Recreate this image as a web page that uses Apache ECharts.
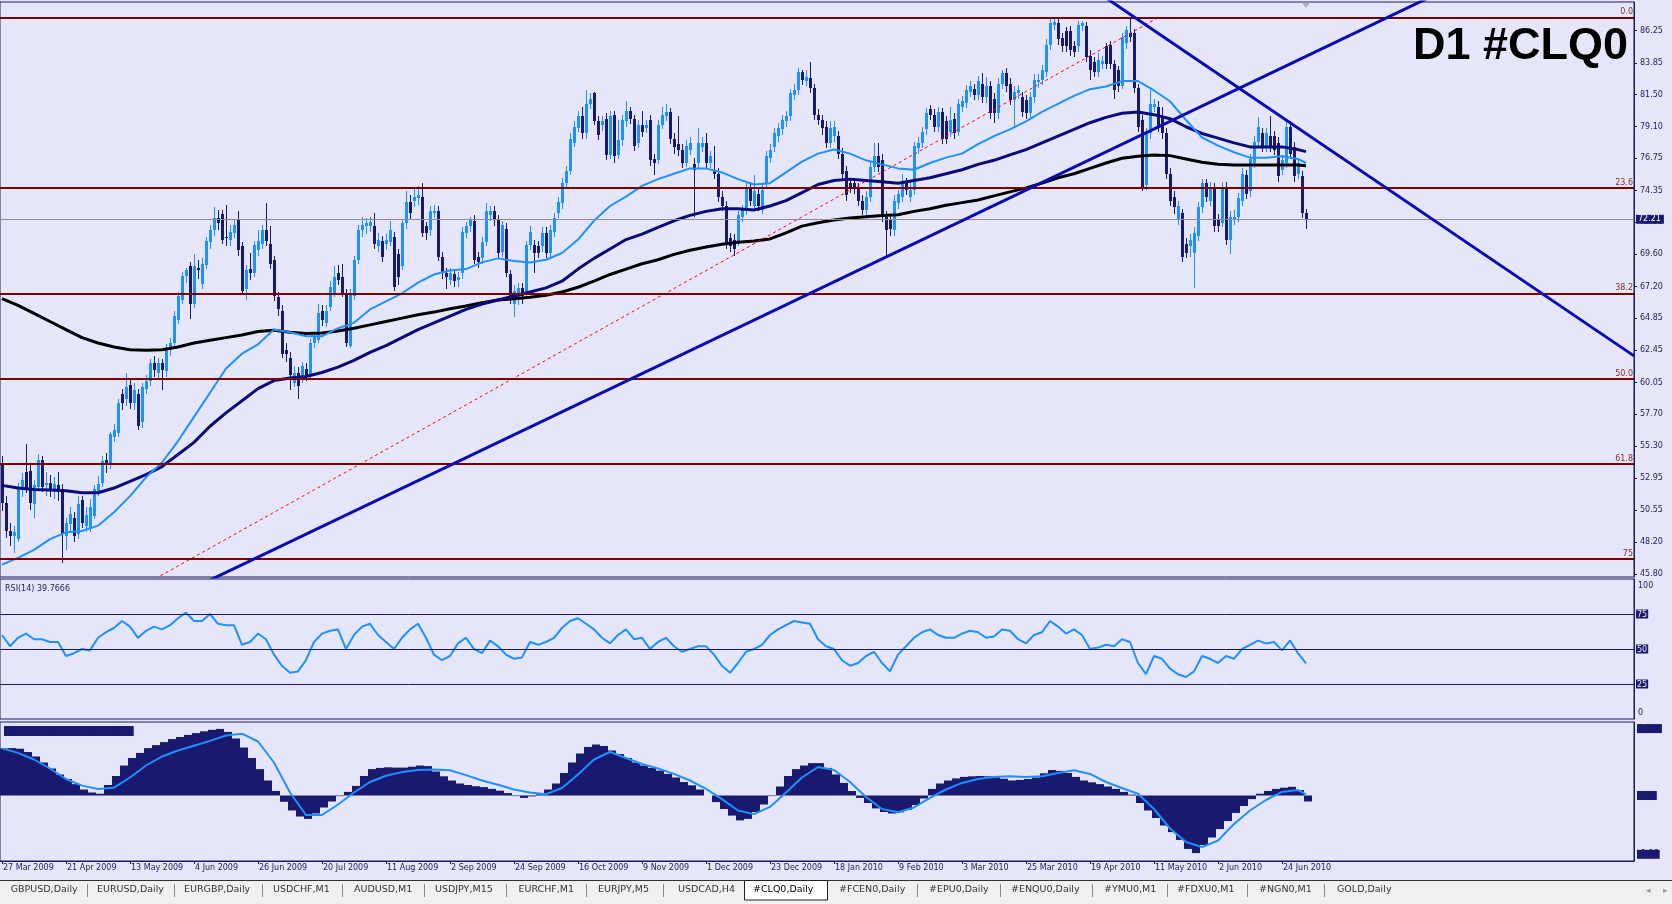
<!DOCTYPE html>
<html><head><meta charset="utf-8">
<script src="https://cdn.jsdelivr.net/npm/echarts@6/dist/echarts.min.js"></script>
<style>html,body{margin:0;padding:0;background:#E6E6FA;}#c{width:1672px;height:904px;}</style>
</head><body><div id="c"></div>
<script>
// ---------------- DATA ----------------
const dateLabels = ['27 Mar 2009','21 Apr 2009','13 May 2009','4 Jun 2009','26 Jun 2009','20 Jul 2009','11 Aug 2009','2 Sep 2009','24 Sep 2009','16 Oct 2009','9 Nov 2009','1 Dec 2009','23 Dec 2009','18 Jan 2010','9 Feb 2010','3 Mar 2010','25 Mar 2010','19 Apr 2010','11 May 2010','2 Jun 2010','24 Jun 2010'];
const priceTicks = [45.80,48.20,50.55,52.95,55.30,57.70,60.05,62.45,64.85,67.20,69.60,72.00,74.35,76.75,79.10,81.50,83.85,86.25];
// daily candles: [open, close, low, high]
const candles = [
[54.0,51.1,50.5,54.6],[51.1,49.0,48.5,51.6],[49.0,48.6,47.9,49.6],[48.6,48.9,47.4,49.4],[48.4,52.3,48.2,52.6],
[52.1,52.8,51.5,53.3],[53.4,52.1,51.8,55.5],[53.5,51.1,50.6,53.9],[51.0,52.4,50.0,52.8],[52.3,54.3,52.0,54.7],
[54.3,52.3,51.9,54.6],[52.4,52.6,51.6,53.4],[52.6,52.1,51.5,53.2],[52.1,52.5,51.4,53.0],[52.4,51.9,51.2,53.4],
[52.1,48.8,46.6,52.5],[48.6,49.6,47.6,50.0],[49.5,50.3,48.9,50.8],[50.0,48.6,48.2,50.4],[48.8,51.0,48.4,51.6],
[51.3,49.6,49.2,51.6],[49.4,50.2,48.9,50.8],[49.2,50.8,48.9,51.4],[50.1,52.1,49.9,52.4],[52.0,52.5,51.6,53.1],
[52.6,54.2,52.3,54.6],[54.3,53.9,53.3,54.8],[53.9,56.2,53.6,56.4],[56.0,56.5,55.6,57.0],[56.3,58.5,56.0,58.8],
[59.2,58.5,58.0,59.6],[58.8,59.7,58.3,60.8],[59.9,58.5,58.1,60.3],[58.5,59.5,58.0,60.0],[59.2,56.8,56.5,59.6],
[57.1,59.7,56.7,60.0],[59.6,60.2,59.2,60.6],[60.2,61.5,59.8,61.8],[61.5,61.0,60.5,62.0],[60.8,61.5,60.4,61.9],
[61.5,61.0,59.5,61.8],[60.9,62.5,60.5,62.9],[62.5,63.0,62.0,63.4],[63.0,65.0,62.8,65.4],[64.7,66.5,64.4,66.8],
[66.2,68.0,65.9,68.3],[68.0,68.4,67.5,68.6],[68.7,65.9,64.8,69.0],[65.9,68.7,65.6,69.6],[68.6,68.4,67.8,69.2],
[67.4,68.9,67.0,69.3],[68.8,70.6,68.5,70.9],[70.5,71.4,70.0,71.8],[71.4,72.3,71.0,73.1],[72.3,71.9,71.4,72.9],
[72.6,70.7,70.4,72.9],[70.9,70.8,70.2,73.3],[70.7,71.3,70.2,71.8],[71.2,71.8,70.8,72.2],[72.2,69.9,69.5,72.8],
[70.2,66.9,66.6,70.5],[67.0,68.4,66.2,68.8],[68.5,68.2,67.7,69.7],[68.2,70.3,67.9,70.6],[69.9,70.6,69.5,71.4],
[70.4,71.4,70.0,71.8],[71.4,70.6,70.2,73.4],[70.4,68.9,68.5,71.7],[69.2,66.5,66.1,69.5],[66.4,65.5,65.0,66.8],
[65.4,62.2,61.9,65.8],[62.5,62.2,61.6,63.0],[61.9,60.6,59.5,62.3],[60.0,60.8,59.7,61.3],[60.8,59.8,58.8,61.2],
[60.5,61.3,60.0,61.6],[61.1,60.6,60.2,61.5],[60.6,63.0,60.3,63.3],[63.0,63.5,62.6,63.8],[63.2,65.2,63.0,65.9],
[65.4,64.7,64.3,65.8],[64.5,65.4,64.2,65.8],[65.7,67.2,65.4,67.6],[66.7,67.9,66.4,68.7],[68.2,67.7,67.3,68.8],
[67.9,66.7,66.4,68.9],[66.7,63.0,62.7,67.0],[62.8,66.7,62.6,67.0],[66.5,69.2,66.2,69.5],[69.2,71.4,68.9,71.8],
[71.4,71.8,70.9,72.4],[71.7,71.9,71.1,72.3],[71.7,72.0,71.3,72.4],[71.7,70.4,70.0,72.7],[70.2,70.7,69.8,71.2],
[70.6,69.4,69.0,71.0],[70.4,70.7,69.9,71.1],[70.5,71.4,70.2,72.1],[70.9,67.2,66.9,71.3],[69.6,67.9,67.3,70.0],
[68.7,71.9,68.4,72.2],[71.9,73.5,71.5,74.3],[73.5,72.7,72.2,74.0],[73.6,73.9,73.1,74.6],[73.8,74.0,73.3,74.7],
[73.9,71.2,70.9,74.9],[71.7,71.2,70.7,72.0],[71.4,72.8,71.0,73.2],[72.7,72.8,72.3,73.3],[72.8,69.4,69.1,73.2],
[69.4,68.2,67.8,69.8],[68.2,67.9,67.0,68.6],[67.7,68.2,67.3,68.6],[68.1,67.6,67.2,68.5],[67.7,67.9,67.2,68.3],
[68.2,71.3,67.8,71.6],[71.2,71.7,70.8,72.0],[71.7,72.2,71.3,72.4],[72.1,69.2,68.9,72.5],[69.4,69.0,68.6,69.8],
[69.3,70.5,68.9,70.9],[70.5,72.8,70.2,73.4],[72.5,72.8,72.1,73.2],[72.8,72.2,71.7,73.2],[72.2,69.7,69.3,72.5],
[69.8,71.8,69.4,72.1],[71.5,68.2,67.9,71.9],[68.1,66.2,65.9,68.4],[65.9,66.9,64.9,67.3],[66.2,67.1,65.8,67.5],
[67.1,66.5,65.9,67.5],[66.6,70.3,66.3,70.6],[70.3,71.3,69.9,71.7],[70.3,69.7,68.2,70.7],[70.2,69.7,69.3,70.6],
[70.2,71.2,69.8,71.6],[71.2,69.7,69.3,71.6],[69.7,71.4,69.3,71.8],[71.3,72.3,70.9,72.7],[72.7,73.5,72.3,73.9],
[73.4,74.9,73.0,75.3],[74.9,75.8,74.5,76.2],[75.8,78.2,75.5,78.6],[77.9,79.1,77.6,79.5],[79.0,79.9,78.7,80.3],
[79.9,78.6,78.2,80.6],[78.6,80.8,78.2,81.8],[80.8,81.2,80.4,81.6],[81.6,79.5,79.2,81.7],[79.5,78.5,78.1,79.9],
[79.2,79.5,78.8,79.9],[79.7,77.0,76.6,80.1],[77.0,79.9,76.7,80.3],[80.0,76.9,76.4,80.3],[77.0,78.1,76.7,79.6],
[78.1,79.6,77.7,80.0],[79.5,80.3,79.1,81.0],[80.3,79.7,79.3,80.6],[79.7,77.7,77.3,80.0],[77.9,79.2,77.5,79.6],
[79.2,78.7,78.3,80.3],[79.0,79.2,78.6,79.6],[79.6,76.6,76.2,80.0],[76.7,76.4,75.5,77.1],[76.6,79.2,76.3,79.6],
[79.2,80.0,78.9,80.6],[79.9,80.2,79.5,80.8],[80.2,78.2,77.8,80.5],[78.2,77.6,77.1,78.6],[77.8,77.4,76.9,79.9],
[77.4,76.4,76.0,77.8],[76.4,77.7,76.1,78.1],[77.4,77.9,77.0,78.3],[76.3,75.9,72.4,76.8],[76.4,77.9,76.0,79.0],
[77.6,77.9,77.2,78.3],[77.9,76.4,76.0,78.6],[76.4,76.9,76.0,77.3],[75.9,75.6,75.2,77.7],[75.6,73.9,73.5,76.0],
[73.9,73.2,72.8,74.3],[73.2,70.4,70.0,73.6],[70.8,70.2,69.8,71.2],[70.7,70.0,69.5,71.1],[70.4,72.5,70.2,72.8],
[72.4,72.9,72.0,73.3],[72.9,74.6,72.5,75.0],[74.6,73.6,73.2,75.0],[73.2,74.3,72.9,75.5],[74.1,73.2,72.8,74.5],
[72.9,74.4,72.6,74.8],[74.9,76.9,74.5,77.3],[76.8,77.4,76.4,77.8],[77.6,78.6,77.2,79.0],[78.4,79.0,78.0,79.4],
[78.9,79.6,78.5,80.0],[79.5,79.9,79.1,80.3],[79.9,81.6,79.5,81.9],[81.5,81.8,81.1,82.3],[81.8,83.2,81.5,83.5],
[83.2,82.6,82.2,83.3],[82.5,82.8,82.1,83.3],[82.7,82.0,81.6,83.9],[82.0,80.0,79.6,82.3],[80.0,79.6,79.2,80.4],
[79.6,79.0,78.5,80.0],[79.1,77.9,77.5,79.5],[77.9,79.0,77.5,79.5],[78.4,79.1,78.0,79.5],[78.4,77.1,76.7,78.8],
[77.1,75.6,75.2,77.5],[75.8,74.0,73.6,76.2],[74.9,74.6,74.2,75.3],[74.9,74.5,74.1,75.3],[74.5,73.6,73.2,74.9],
[73.6,72.9,72.5,74.0],[72.9,73.9,72.5,74.3],[73.9,76.1,73.5,76.5],[76.1,76.9,75.7,77.9],[76.9,76.1,75.7,77.9],
[76.6,72.4,72.0,77.1],[72.4,71.4,69.5,72.8],[72.2,71.5,71.0,72.6],[71.4,73.6,71.0,74.0],[73.4,74.1,73.0,74.4],
[73.9,74.9,73.5,75.6],[74.9,74.4,74.0,75.3],[73.9,74.4,73.5,75.0],[74.4,77.7,74.0,78.0],[77.5,77.9,77.1,78.3],
[77.9,78.7,77.5,79.1],[78.9,80.1,78.5,80.5],[80.4,80.0,79.6,80.7],[80.0,79.1,78.7,80.4],[79.1,80.2,78.7,80.6],
[80.2,78.2,77.8,80.5],[79.5,78.2,77.8,79.9],[78.7,79.6,78.3,80.6],[79.7,78.6,78.2,80.1],[78.7,80.8,78.4,81.2],
[80.6,81.0,80.2,81.4],[80.9,81.8,80.5,82.2],[81.7,82.1,81.3,82.5],[81.9,81.5,81.1,82.3],[81.5,82.5,81.1,82.9],
[82.3,81.3,80.9,83.1],[81.3,82.1,80.9,82.8],[82.1,80.1,79.7,82.5],[81.2,80.1,79.4,81.6],[80.1,82.3,79.7,82.7],
[82.3,83.1,81.9,83.3],[83.1,82.1,81.7,83.5],[82.3,81.1,80.7,82.7],[81.1,81.7,79.1,82.1],[81.6,81.8,81.2,82.2],
[81.3,80.2,79.8,81.7],[81.1,80.1,79.7,81.5],[80.1,81.3,79.7,81.7],[81.3,82.6,80.9,83.0],[82.4,82.6,82.0,83.0],
[82.6,83.3,82.2,83.7],[83.2,85.2,82.8,85.6],[85.2,86.8,84.8,87.1],[86.7,86.9,86.3,87.2],[86.8,85.6,85.2,87.1],
[85.7,85.1,84.7,86.1],[86.2,85.1,84.7,86.5],[86.2,84.8,84.4,86.6],[85.1,84.7,84.3,85.5],[85.1,86.7,84.7,87.0],
[86.6,86.8,86.2,87.0],[86.6,84.3,83.9,86.9],[84.4,83.3,82.6,84.8],[83.9,83.2,82.8,84.3],[83.2,84.1,82.8,84.6],
[83.8,84.0,83.4,84.4],[85.1,83.8,83.4,85.3],[85.2,83.8,83.4,85.5],[83.8,81.8,81.2,84.1],[83.3,82.1,81.7,83.6],
[82.1,85.8,81.9,86.1],[85.3,86.3,84.9,86.6],[86.1,85.8,85.4,87.2],[86.1,82.0,81.6,86.4],[82.0,79.1,78.7,82.3],
[79.6,74.6,74.3,80.0],[74.8,78.6,74.4,79.0],[78.6,80.8,78.2,81.8],[80.6,80.8,80.2,81.2],[80.6,79.1,78.7,81.0],
[79.8,78.6,78.2,80.6],[78.6,75.6,75.2,79.0],[75.6,73.6,73.2,76.0],[73.9,73.1,72.6,74.3],[72.2,73.2,71.8,73.6],
[72.7,69.4,69.0,73.0],[70.4,69.7,69.3,70.8],[70.2,70.7,69.4,71.1],[69.7,71.2,67.1,71.6],[71.0,73.1,70.6,73.5],
[73.1,74.9,72.7,75.2],[74.9,73.9,73.5,75.2],[73.6,74.6,73.2,75.0],[74.5,71.7,71.3,74.9],[72.2,71.7,71.3,72.6],
[71.9,74.6,71.6,75.0],[74.6,70.7,70.3,75.0],[70.7,72.4,69.6,72.8],[72.2,72.4,71.8,72.9],[72.4,73.8,72.0,74.2],
[73.6,75.6,73.2,76.0],[75.5,74.1,73.7,75.9],[74.3,76.7,73.9,77.1],[76.4,78.0,76.0,78.4],[78.0,79.1,77.6,79.8],
[78.6,77.6,77.2,79.0],[77.6,78.6,77.2,79.0],[78.4,77.6,77.2,79.9],[78.4,77.4,77.0,78.8],[77.9,75.4,75.0,78.3],
[75.9,76.6,75.5,77.0],[76.4,79.1,76.0,79.5],[79.1,77.1,76.7,79.5],[77.6,75.4,75.0,78.0],[75.6,76.4,75.2,76.8],
[75.4,72.7,72.3,75.8],[72.7,72.21,71.5,73.0]
];
// moving averages, one value every 4 bars (last value = last bar)
const maFast = [46.5,47.0,47.6,48.4,48.9,49.0,49.4,50.4,51.6,53.0,54.1,55.7,57.5,59.3,61.1,62.2,62.9,64.0,63.8,63.5,63.5,64.1,64.5,65.5,66.1,66.7,67.5,68.1,68.4,68.5,69.0,69.3,69.1,69.0,69.2,69.7,70.7,72.1,73.2,73.9,74.7,75.2,75.6,76.0,76.0,75.7,75.2,74.8,74.9,75.7,76.5,77.1,77.4,77.1,76.6,76.3,76.0,75.9,76.4,76.8,77.1,77.8,78.4,78.9,79.5,80.2,80.8,81.4,81.9,82.1,82.5,82.5,81.8,81.0,79.6,78.3,77.7,77.2,76.8,76.8,76.9,76.7,76.4];
const maMid = [52.4,52.2,52.1,52.05,52.0,51.85,51.85,52.2,52.7,53.2,53.8,54.7,55.6,56.8,57.8,58.7,59.6,60.2,60.4,60.5,60.8,61.2,61.7,62.3,62.8,63.4,64.0,64.5,65.0,65.5,65.9,66.2,66.5,66.8,67.1,67.6,68.5,69.3,70.0,70.7,71.1,71.6,72.1,72.5,72.8,73.0,73.0,72.9,73.2,73.6,74.2,74.8,75.1,75.2,75.1,75.0,74.9,75.1,75.3,75.6,75.9,76.3,76.6,77.0,77.4,77.9,78.4,78.9,79.4,79.8,80.1,80.2,80.0,79.7,79.1,78.6,78.25,77.9,77.6,77.6,77.6,77.4,77.25];
const maSlow = [66.3,65.8,65.2,64.6,64.0,63.4,63.0,62.7,62.5,62.45,62.5,62.7,63.0,63.2,63.4,63.6,63.85,63.95,63.8,63.7,63.75,63.9,64.1,64.35,64.6,64.85,65.1,65.3,65.55,65.75,66.0,66.2,66.3,66.4,66.55,66.8,67.15,67.6,68.1,68.5,68.9,69.2,69.6,69.9,70.15,70.35,70.5,70.6,70.75,71.2,71.7,71.95,72.15,72.3,72.4,72.5,72.55,72.8,73.0,73.25,73.45,73.65,73.95,74.25,74.55,74.9,75.3,75.6,76.0,76.4,76.75,76.9,77.0,76.95,76.7,76.45,76.3,76.25,76.25,76.25,76.25,76.25,76.2];
// RSI(14), one value every 2 bars
const rsi = [60,52,58,61,57,57,55,55,45,47, 50,49,58,62,65,70,66,58,63,66, 64,67,72,76,70,70,75,68,67,67,
 53,55,61,57,46,38,33,34,42,55, 61,63,64,50,60,66,68,60,55,50, 58,64,68,58,46,42,45,54,58,50,
 47,56,52,46,43,44,55,53,55,58, 65,70,72,68,64,58,54,60,64,57, 58,50,55,58,52,48,50,52,52,46,
 38,33,40,48,50,53,60,64,67,70, 69,68,57,52,50,42,38,40,45,48, 40,34,46,52,58,62,64,60,58,58,
 61,63,62,58,59,64,63,57,54,60, 62,70,66,61,64,60,50,51,53,52, 57,55,40,32,45,43,36,32,30,34,
 45,43,40,45,43,50,53,56,54,55, 49,56,47,39.77];
const rsiText = 'RSI(14) 39.7666';
// MACD histogram, one value every 2 bars
const macdHist = [1.57,1.58,1.56,1.45,1.30,1.10,0.90,0.70,0.55,0.38, 0.20,0.10,0.06,0.35,0.65,1.00,1.25,1.42,1.58,1.68,
 1.78,1.88,1.95,2.02,2.08,2.14,2.19,2.22,2.12,1.90, 1.60,1.25,0.88,0.50,0.15,-0.21,-0.50,-0.70,-0.78,-0.60,
 -0.40,-0.20,-0.02,0.12,0.32,0.65,0.88,0.92,0.94,0.93, 0.93,0.96,1.00,0.98,0.80,0.64,0.50,0.40,0.35,0.31,
 0.28,0.22,0.16,0.08,-0.02,-0.08,-0.03,0.04,0.20,0.40, 0.75,1.10,1.40,1.62,1.70,1.65,1.50,1.38,1.25,1.10,
 1.00,0.92,0.83,0.72,0.60,0.45,0.34,0.20,0.00,-0.22, -0.45,-0.67,-0.83,-0.78,-0.55,-0.30,-0.02,0.30,0.65,0.88,
 1.00,1.08,1.08,0.92,0.70,0.42,0.15,-0.08,-0.25,-0.43, -0.55,-0.60,-0.56,-0.48,-0.32,-0.10,0.22,0.40,0.50,0.57,
 0.62,0.64,0.65,0.64,0.62,0.56,0.50,0.52,0.55,0.60, 0.74,0.85,0.82,0.75,0.62,0.50,0.44,0.38,0.30,0.22,
 0.12,0.03,-0.25,-0.50,-0.75,-1.00,-1.22,-1.48,-1.78,-1.92, -1.65,-1.40,-1.12,-0.85,-0.58,-0.35,-0.12,0.06,0.15,0.22,
 0.26,0.29,0.18,-0.20];
// MACD signal, one value every 4 bars (last value = last bar)
const macdSignal = [1.57,1.42,1.2,0.9,0.55,0.33,0.22,0.26,0.6,1.0, 1.3,1.5,1.66,1.82,2.0,2.06,1.8,1.1,0.1,-0.65,
 -0.65,-0.3,0.1,0.45,0.66,0.78,0.85,0.87,0.84,0.68, 0.5,0.36,0.2,0.1,0.04,0.25,0.7,1.2,1.45,1.25,
 1.05,0.9,0.72,0.5,0.22,-0.12,-0.5,-0.62,-0.38,0.1, 0.6,0.95,0.85,0.45,-0.05,-0.45,-0.56,-0.4,-0.08,0.2,
 0.42,0.55,0.62,0.64,0.62,0.64,0.75,0.84,0.72,0.45, 0.25,0.06,-0.45,-1.1,-1.55,-1.72,-1.5,-0.95,-0.5,-0.15,
 0.12,0.18,0.04];
const macdScaleLabels = [2.23, 0, -1.96];
// Fibonacci retracement and drawn trend lines (bar index, price)
const fibHigh = 87.25, fibLow = 33.45;
const fibRatios = [0, 23.6, 38.2, 50.0, 61.8, 75];
const fibNames = ['0.0','23.6','38.2','50.0','61.8','75'];
const fibBase = [[-33.7, fibLow],[289.2, fibHigh]];
const trendUp = [[0, 37.95],[408, 96.01]];
const trendDown = [[260, 91.92],[408, 62.04]];
const lastPrice = 72.21;
const tabNames = ['GBPUSD,Daily','EURUSD,Daily','EURGBP,Daily','USDCHF,M1','AUDUSD,M1','USDJPY,M15','EURCHF,M1','EURJPY,M5','USDCAD,H4','#CLQ0,Daily','#FCEN0,Daily','#EPU0,Daily','#ENQU0,Daily','#YMU0,M1','#FDXU0,M1','#NGN0,M1','GOLD,Daily'];
const activeTab = 9;

// ---------------- LAYOUT / STYLE ----------------
const tabX = [10.7,97,184,273,354,435,518.5,598,678,753,839,929,1011,1104,1177,1259,1337];
const BG = '#E6E6FA', BORDER = '#1A1A5E', TXT = '#1C1C5C';
const UP = '#1E90FF', DOWN = '#191970';
const lastBar = candles.length - 1;
const X_MIN = -0.5, X_MAX = 408;
const Y_MIN = 45.5766, Y_MAX = 88.388;
const FONT = 'DejaVu Sans';
const TAB_FONT = '9.5px "' + FONT + '"';

const chart = echarts.init(document.getElementById('c'), null, {renderer: 'canvas'});

function step4(arr){ return arr.map((v,k)=>[Math.min(k*4, lastBar), v]); }
function step2(arr){ return arr.map((v,k)=>[k*2, v]); }

function renderCandle(params, api){
  const i = api.value(0), o = api.value(1), c = api.value(2), l = api.value(3), h = api.value(4);
  const pO = api.coord([i,o]), pC = api.coord([i,c]);
  const pL = api.coord([i,Math.min(l,o,c)]), pH = api.coord([i,Math.max(h,o,c)]);
  const x = Math.round(pO[0]);
  const col = c >= o ? UP : DOWN;
  const yT = Math.round(Math.min(pO[1],pC[1])), yB = Math.round(Math.max(pO[1],pC[1]));
  return {type:'group', children:[
    {type:'rect', shape:{x:x, y:Math.round(pH[1]), width:1, height:Math.max(1,Math.round(pL[1])-Math.round(pH[1]))}, style:{fill:col}},
    {type:'rect', shape:{x:x-1, y:yT, width:3, height:Math.max(1,yB-yT)}, style:{fill:col}}
  ]};
}
function renderHist(params, api){
  const b = api.value(0), v = api.value(1);
  const a = api.coord([b-0.5, 0]), e = api.coord([b+1.5, v]);
  return {type:'rect', shape:{x:Math.round(a[0]), y:Math.min(a[1],e[1]), width:Math.round(e[0])-Math.round(a[0]), height:Math.abs(e[1]-a[1])}, style:{fill:DOWN}};
}

// text measuring for tab separators
const mctx = document.createElement('canvas').getContext('2d');
mctx.font = TAB_FONT;

const xCommon = {type:'value', min:X_MIN, max:X_MAX, splitLine:{show:false}};
const graphics = [];
// tab bar
graphics.push({type:'rect', shape:{x:0,y:881,width:1672,height:23}, style:{fill:'#F0F0F0'}, z:10});
graphics.push({type:'rect', shape:{x:0,y:880,width:1672,height:1}, style:{fill:'#303030'}, z:11});
graphics.push({type:'rect', shape:{x:tabX[activeTab]-8.5,y:880.5,width:83,height:19.5}, style:{fill:'#FFFFFF', stroke:'#202020', lineWidth:1}, z:11});
tabNames.forEach((t,i)=>{
  graphics.push({type:'text', x:tabX[i], y:890, style:{text:t, fill: i===activeTab?'#000':'#333', font:TAB_FONT, verticalAlign:'middle'}, z:12});
  if(i>0 && i!==activeTab && i!==activeTab+1){
    const prevEnd = tabX[i-1] + mctx.measureText(tabNames[i-1]).width;
    const sx = Math.round((prevEnd + tabX[i]) / 2);
    graphics.push({type:'rect', shape:{x:sx, y:884, width:1, height:13}, style:{fill:'#8a8a8a'}, z:12});
  }
});
graphics.push({type:'text', x:1646, y:891, style:{text:'◂', fill:'#999', font:'9px "'+FONT+'"', verticalAlign:'middle'}, z:12});
graphics.push({type:'text', x:1663, y:891, style:{text:'▸', fill:'#999', font:'9px "'+FONT+'"', verticalAlign:'middle'}, z:12});
// indicator captions
graphics.push({type:'text', x:5, y:589, style:{text:rsiText, fill:TXT, font:'8px "'+FONT+'"', verticalAlign:'middle'}, z:12});
graphics.push({type:'text', x:4, y:726, style:{text:'MACD(12,26,9) -0.1989 0.0411', fill:'#1A1A6E', backgroundColor:'#1A1A6E', padding:[1,4,1,1], font:'8px "'+FONT+'"', verticalAlign:'top'}, z:12});

const option = {
  animation:false,
  backgroundColor: BG,
  title:{text:'D1 #CLQ0', right:44, top:24, padding:0, textStyle:{fontFamily:'Liberation Sans', fontWeight:'bold', fontSize:45, color:'#000'}},
  grid:[
    {left:0, top:2, width:1634, height:575, show:true, borderColor:BORDER, borderWidth:1, backgroundColor:BG},
    {left:0, top:579, width:1634, height:140, show:true, borderColor:BORDER, borderWidth:1, backgroundColor:BG},
    {left:0, top:722, width:1634, height:139, show:true, borderColor:BORDER, borderWidth:1, backgroundColor:BG}
  ],
  xAxis:[
    Object.assign({gridIndex:0, show:false}, xCommon),
    Object.assign({gridIndex:1, show:false}, xCommon),
    Object.assign({gridIndex:2, position:'bottom',
      axisLine:{show:true, onZero:false, lineStyle:{color:BORDER}},
      axisTick:{show:true, length:3, lineStyle:{color:BORDER}, customValues: dateLabels.map((_,k)=>k*16)},
      axisLabel:{show:true, customValues: dateLabels.map((_,k)=>k*16), formatter:(v)=>dateLabels[Math.round(v/16)]||'',
        align:'left', margin:3, padding:[0,0,0,1], color:TXT, fontFamily:FONT, fontSize:8}
    }, xCommon)
  ],
  yAxis:[
    {gridIndex:0, type:'value', position:'right', min:Y_MIN, max:Y_MAX, splitLine:{show:false},
      axisLine:{show:true, onZero:false, lineStyle:{color:BORDER}},
      axisTick:{show:true, length:3, customValues:priceTicks, lineStyle:{color:BORDER}},
      axisLabel:{customValues:priceTicks, formatter:(v)=>v.toFixed(2), margin:6, color:TXT, fontFamily:FONT, fontSize:8}},
    {gridIndex:1, type:'value', position:'right', min:0, max:100, splitLine:{show:false},
      axisLine:{show:true, onZero:false, lineStyle:{color:BORDER}},
      axisTick:{show:false},
      axisLabel:{customValues:[0,25,50,75,100], margin:2,
        formatter:(v)=> (v===25||v===50||v===75) ? '{b|'+v+'}' : (v===100 ? '{t|100}' : '{z|0}'),
        rich:{b:{backgroundColor:'#1A1A6E', color:'#E6E6FA', padding:[1,1,0,1], fontFamily:FONT, fontSize:8},
              t:{color:TXT, padding:[13,0,0,2], fontFamily:FONT, fontSize:8},
              z:{color:TXT, padding:[0,0,13,2], fontFamily:FONT, fontSize:8}}}},
    {gridIndex:2, type:'value', position:'right', min:-2.183, max:2.45, splitLine:{show:false},
      axisLine:{show:true, onZero:false, lineStyle:{color:BORDER}},
      axisTick:{show:false},
      axisLabel:{customValues:macdScaleLabels, margin:3, formatter:(v)=> v===0 ? '0.00' : (v>0? v.toFixed(3) : v.toFixed(2)),
        color:'#1A1A6E', backgroundColor:'#1A1A6E', padding:[1,1,0,1], fontFamily:FONT, fontSize:8}}
  ],
  graphic: graphics,
  series:[
    {name:'bid', type:'line', xAxisIndex:0, yAxisIndex:0, data:[[lastBar,lastPrice]], symbol:'none', z:1, silent:true,
      lineStyle:{opacity:0},
      markLine:{silent:true, symbol:['none','none'], lineStyle:{color:'#8c8c8c', width:1, type:'solid'},
        data:[{yAxis:lastPrice}],
        label:{show:true, position:'end', distance:2, formatter:()=>lastPrice.toFixed(2), color:'#FFFFFF', backgroundColor:'#1A1A6E', padding:[1,3,0,2], fontFamily:FONT, fontSize:8}}},
    {name:'candles', type:'custom', xAxisIndex:0, yAxisIndex:0, z:2, silent:true,
      data: candles.map((r,i)=>[i, r[0], r[1], r[2], r[3]]),
      encode:{x:0, y:[1,2,3,4]}, renderItem: renderCandle, clip:true},
    {name:'MA slow', type:'line', xAxisIndex:0, yAxisIndex:0, data:step4(maSlow), symbol:'none', z:3, lineStyle:{color:'#000000', width:3}, silent:true},
    {name:'MA mid', type:'line', xAxisIndex:0, yAxisIndex:0, data:step4(maMid), symbol:'none', z:3, lineStyle:{color:'#0A0A78', width:3}, silent:true},
    {name:'MA fast', type:'line', xAxisIndex:0, yAxisIndex:0, data:step4(maFast), symbol:'none', z:3, lineStyle:{color:UP, width:2}, silent:true},
    {name:'fib', type:'line', xAxisIndex:0, yAxisIndex:0, data:fibBase, symbol:'none', z:4, clip:true, silent:true,
      lineStyle:{color:'#FF0000', width:1, type:[3,3]},
      markLine:{silent:true, symbol:['none','none'], lineStyle:{color:'#7A0000', width:2, type:'solid'},
        data: fibRatios.map((r,k)=>({yAxis: fibHigh - r/100*(fibHigh-fibLow), name: fibNames[k]})),
        label:{show:true, position:'insideEndTop', distance:[1,1], formatter:(p)=>p.name, color:'#8B2A2A', fontFamily:FONT, fontSize:8}}},
    {name:'trend up', type:'line', xAxisIndex:0, yAxisIndex:0, data:trendUp, symbol:'none', z:5, clip:true, silent:true, lineStyle:{color:'#0A0AB4', width:3}},
    {name:'trend down', type:'line', xAxisIndex:0, yAxisIndex:0, data:trendDown, symbol:'none', z:5, clip:true, silent:true, lineStyle:{color:'#0A0AB4', width:3}},
    {name:'shift', type:'scatter', xAxisIndex:0, yAxisIndex:0, data:[[lastBar, Y_MAX]], symbol:'triangle', symbolRotate:180, symbolSize:[9,6], symbolOffset:[0,3], clip:false, z:6, silent:true, itemStyle:{color:'#9A9AAA'}},
    {name:'RSI', type:'line', xAxisIndex:1, yAxisIndex:1, data:step2(rsi), symbol:'none', z:3, silent:true, lineStyle:{color:UP, width:2},
      markLine:{silent:true, symbol:['none','none'], label:{show:false}, lineStyle:{color:BORDER, width:1, type:'solid'}, data:[{yAxis:75},{yAxis:50},{yAxis:25}]}},
    {name:'MACD', type:'custom', xAxisIndex:2, yAxisIndex:2, data:step2(macdHist), encode:{x:0,y:1}, renderItem:renderHist, z:2, silent:true, clip:true},
    {name:'Signal', type:'line', xAxisIndex:2, yAxisIndex:2, data:step4(macdSignal), symbol:'none', z:3, silent:true, lineStyle:{color:UP, width:2}}
  ]
};
chart.setOption(option);
</script>
</body></html>
